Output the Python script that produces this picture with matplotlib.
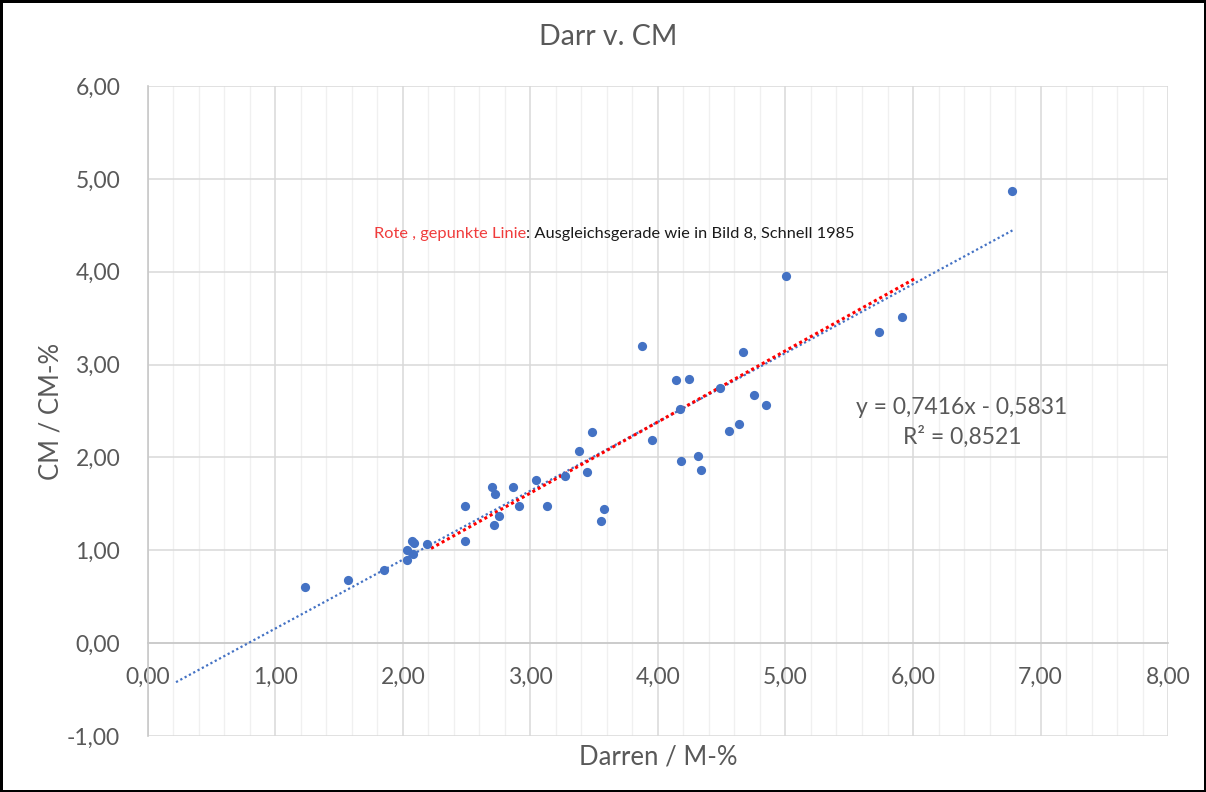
import numpy as np
from matplotlib import pyplot as plt
from matplotlib.ticker import MultipleLocator, FuncFormatter

# data (Darren M-% vs CM %)
darren = [1.235, 1.571, 1.851, 2.031, 2.031, 2.081, 2.073, 2.086, 2.188, 2.49,
          2.49, 2.698, 2.722, 2.711, 2.75, 2.865, 2.91, 3.04, 3.127, 3.27,
          3.378, 3.446, 3.485, 3.553, 3.58, 3.872, 3.95, 4.144, 4.17, 4.18,
          4.246, 4.31, 4.335, 4.49, 4.56, 4.638, 4.664, 4.753, 4.847, 5.004,
          5.73, 5.914, 6.776]
cm = [0.60, 0.68, 0.79, 0.90, 1.00, 0.96, 1.10, 1.08, 1.07, 1.48,
      1.105, 1.68, 1.61, 1.27, 1.37, 1.68, 1.48, 1.76, 1.48, 1.80,
      2.07, 1.84, 2.27, 1.32, 1.44, 3.20, 2.19, 2.83, 2.52, 1.96,
      2.84, 2.02, 1.87, 2.75, 2.28, 2.36, 3.14, 2.67, 2.56, 3.95,
      3.35, 3.51, 4.865]

# excel linear trendline (shown on chart)
SLOPE = 0.7416
INTERCEPT = -0.5831
R2 = 0.8521
TREND_X = [0.22, 6.78]

# Schnell 1985, Bild 8 line (endpoints)
SCHNELL_X = [2.22, 6.02]
SCHNELL_Y = [1.02, 3.93]

BLUE = "#4472C4"
GREY = "#595959"
FONT = "Lato"

plt.rcParams["font.family"] = [FONT, "DejaVu Sans"]

fig = plt.figure(figsize=(12.06, 7.92), dpi=100)
fig.patch.set_edgecolor("black")
fig.patch.set_linewidth(2.5)
ax = fig.add_axes([0.1227, 0.0707, 0.8458, 0.8207])

# points
ax.scatter(darren, cm, s=44, color=BLUE, zorder=4, linewidths=0)

# trendlines
tx = np.array(TREND_X)
ax.plot(tx, SLOPE * tx + INTERCEPT, color=BLUE, linestyle=(0, (1, 1.2)), linewidth=1.6, zorder=3)
ax.plot(SCHNELL_X, SCHNELL_Y, color="red", linestyle=(0, (1, 1)), linewidth=2.2, zorder=3)

# axes / grid
ax.set_xlim(0, 8)
ax.set_ylim(-1, 6)
ax.xaxis.set_major_locator(MultipleLocator(1))
ax.xaxis.set_minor_locator(MultipleLocator(0.2))
ax.yaxis.set_major_locator(MultipleLocator(1))
fmt = FuncFormatter(lambda v, p: ("%.2f" % v).replace(".", ","))
ax.xaxis.set_major_formatter(fmt)
ax.yaxis.set_major_formatter(fmt)
ax.grid(which="major", axis="both", color="#d9d9d9", linewidth=1.1, zorder=0)
ax.grid(which="minor", axis="x", color="#f0f0f0", linewidth=1.0, zorder=0)
ax.set_axisbelow(True)

for s in ["top", "right"]:
    ax.spines[s].set_visible(False)
ax.spines["bottom"].set_position(("data", 0))
ax.spines["bottom"].set_color("#c8c8c8")
ax.spines["left"].set_color("#c8c8c8")
ax.spines["bottom"].set_linewidth(1.2)
ax.spines["left"].set_linewidth(1.2)
ax.tick_params(which="both", length=0)
ax.tick_params(axis="x", pad=17, labelsize=16.5, labelcolor=GREY)
ax.tick_params(axis="y", pad=20, labelsize=16.5, labelcolor=GREY)

ax.set_xlabel("Darren / M-%", fontsize=18.5, color=GREY)
ax.set_ylabel("CM / CM-%", fontsize=18.5, color=GREY)
ax.xaxis.set_label_coords(0.5, -0.013)
ax.yaxis.set_label_coords(-0.083, 0.5)

fig.suptitle("Darr v. CM", fontsize=20.5, color=GREY, x=0.504, y=0.97)

# trendline equation
ax.text(6.38, 2.54, ("y = %.4fx - %.4f" % (SLOPE, -INTERCEPT)).replace(".", ","),
        fontsize=16.5, color=GREY, ha="center", va="center")
ax.text(6.39, 2.22, ("R² = %.4f" % R2).replace(".", ","),
        fontsize=16.5, color=GREY, ha="center", va="center")

# note on the red line
t1 = ax.text(1.773, 4.41, "Rote , gepunkte Linie", fontsize=11.8, color="#f03c3c",
             ha="left", va="center")
ax.annotate(": Ausgleichsgerade wie in Bild 8, Schnell 1985", xy=(1, 0), xycoords=t1,
            fontsize=11.8, color="#1a1a1a", ha="left", va="bottom")

fig.savefig("out.png", dpi=100)
